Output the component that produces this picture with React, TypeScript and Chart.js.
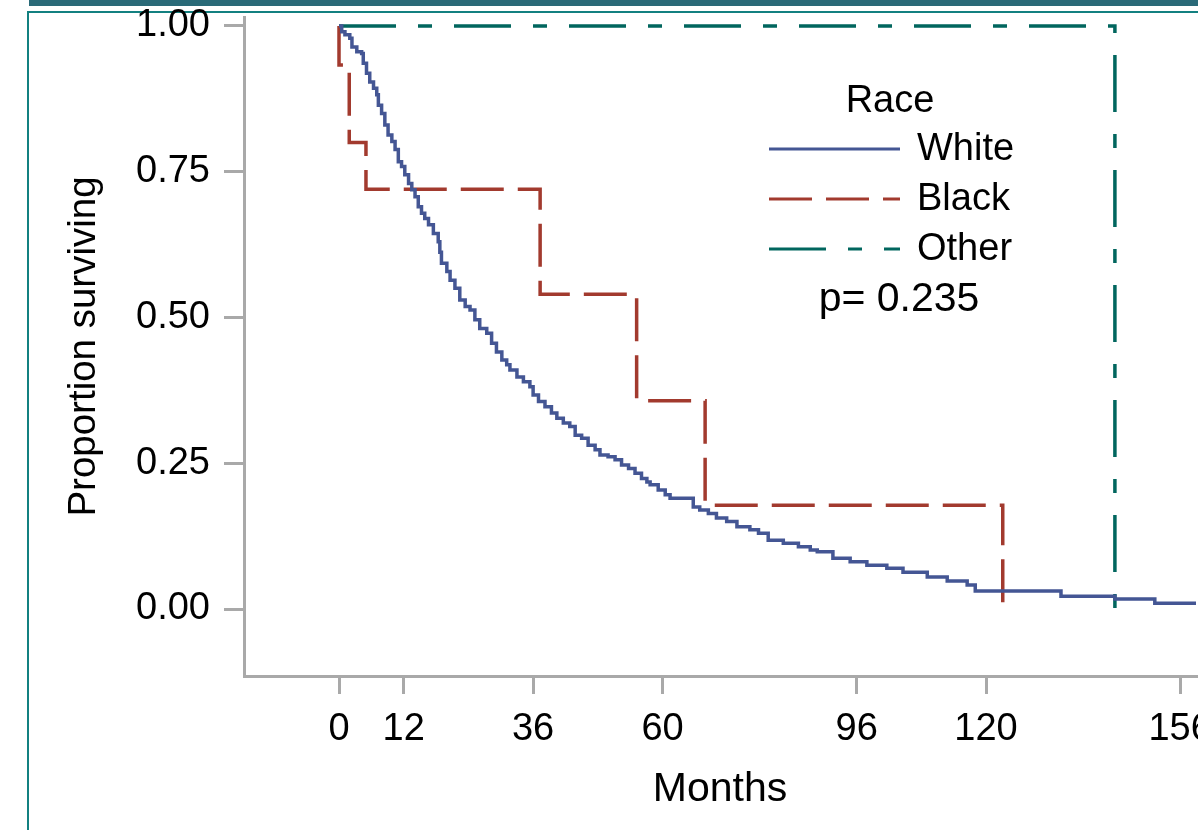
import React, { useEffect, useRef } from "react";
import { Chart, registerables } from "chart.js";

Chart.register(...registerables);

// ---------- data ----------
const xTickValues = [0, 12, 36, 60, 96, 120, 156];
const yTickValues = [0, 0.25, 0.5, 0.75, 1.0];

const seriesNames = ["White", "Black", "Other"];
const legendTitle = "Race";
const pValueText = "p= 0.235";
const xTitle = "Months";
const yTitle = "Proportion surviving";

const whiteMonths = [
  0, 0.5, 1.1, 2.0, 2.4, 3.3, 4.2, 4.5, 5.1, 5.7, 6.4, 7.0, 7.3, 7.9, 8.5, 9.1,
  9.8, 10.4, 11.0, 11.6, 12.2, 12.9, 13.5, 14.1, 14.7, 15.3, 15.9, 16.6, 17.5,
  18.4, 18.7, 19.0, 20.0, 20.6, 21.5, 22.4, 23.4, 24.3, 25.2, 26.1, 27.4, 28.3,
  29.2, 30.2, 31.1, 31.7, 33.0, 34.2, 35.4, 36.0, 37.0, 38.2, 39.4, 40.4, 41.6,
  42.8, 43.8, 45.0, 46.2, 47.5, 48.4, 49.9, 51.2, 52.4, 53.7, 54.9, 56.1, 57.1,
  57.7, 59.2, 60.5, 61.4, 65.7, 66.9, 68.5, 70.0, 71.9, 73.8, 76.2, 77.8, 79.6,
  82.4, 85.2, 87.4, 88.7, 91.6, 94.8, 97.9, 101.6, 104.6, 109.1, 112.8, 116.5,
  118.0, 133.9, 143.9, 151.3, 160.0,
];
const whiteSurvival = [
  1.0, 0.99, 0.985, 0.979, 0.964, 0.956, 0.953, 0.936, 0.919, 0.904, 0.893,
  0.882, 0.864, 0.85, 0.83, 0.813, 0.802, 0.788, 0.767, 0.759, 0.745, 0.73,
  0.719, 0.707, 0.69, 0.679, 0.67, 0.659, 0.644, 0.63, 0.612, 0.593, 0.579,
  0.564, 0.55, 0.53, 0.519, 0.513, 0.496, 0.481, 0.473, 0.456, 0.441, 0.427,
  0.419, 0.41, 0.398, 0.39, 0.381, 0.367, 0.356, 0.347, 0.336, 0.327, 0.319,
  0.313, 0.298, 0.293, 0.281, 0.273, 0.264, 0.261, 0.256, 0.247, 0.241, 0.233,
  0.224, 0.218, 0.213, 0.204, 0.196, 0.19, 0.175, 0.17, 0.164, 0.156, 0.15,
  0.141, 0.136, 0.13, 0.118, 0.113, 0.107, 0.101, 0.098, 0.087, 0.081, 0.075,
  0.07, 0.063, 0.055, 0.048, 0.041, 0.031, 0.022, 0.017, 0.01, 0.01,
];

const blackMonths = [0, 0, 1.9, 5.0, 37.3, 55.2, 67.9, 123.1];
const blackSurvival = [1.0, 0.933, 0.8, 0.72, 0.54, 0.357, 0.178, 0.0];

const otherMonths = [0, 143.9, 143.9];
const otherSurvival = [1.0, 1.0, 0.0];

// ---------- styles ----------
const seriesColors = ["#445694", "#A23A2E", "#01665E"];
const seriesDashes: number[][] = [[], [43, 14], [57, 22, 14, 22]];
const axisGrey = "#A9A9A9";
const fontFamily = "'Liberation Sans', Arial, Helvetica, sans-serif";

const toPoints = (xs: number[], ys: number[]) =>
  xs.map((x, i) => ({ x, y: ys[i] }));

const legendPlugin = {
  id: "raceLegend",
  afterDraw(chart: any) {
    const ctx = chart.ctx as CanvasRenderingContext2D;
    ctx.save();
    ctx.fillStyle = "#000";
    ctx.textBaseline = "middle";
    ctx.font = `38px ${fontFamily}`;
    ctx.textAlign = "center";
    ctx.fillText(legendTitle, 890, 102);
    seriesNames.forEach((name, i) => {
      const y = 149 + i * 50;
      ctx.strokeStyle = seriesColors[i];
      ctx.lineWidth = 3;
      ctx.setLineDash(seriesDashes[i]);
      ctx.beginPath();
      ctx.moveTo(769, y);
      ctx.lineTo(900, y);
      ctx.stroke();
      ctx.setLineDash([]);
      ctx.textAlign = "left";
      ctx.fillText(name, 917, y + 1);
    });
    ctx.textAlign = "center";
    ctx.font = `41px ${fontFamily}`;
    ctx.fillText(pValueText, 899, 300);
    ctx.restore();
  },
};

export default function App() {
  const canvasRef = useRef<HTMLCanvasElement>(null);

  useEffect(() => {
    const canvas = canvasRef.current;
    if (!canvas) return;
    const datasets = [
      toPoints(whiteMonths, whiteSurvival),
      toPoints(blackMonths, blackSurvival),
      toPoints(otherMonths, otherSurvival),
    ].map((data, i) => ({
      label: seriesNames[i],
      data,
      borderColor: seriesColors[i],
      backgroundColor: seriesColors[i],
      borderWidth: 3.5,
      borderDash: seriesDashes[i],
      pointRadius: 0,
      stepped: "before" as const,
      fill: false,
      tension: 0,
    }));

    const chart = new Chart(canvas, {
      type: "line",
      data: { datasets },
      options: {
        responsive: false,
        animation: false,
        devicePixelRatio: 1,
        layout: { padding: { left: 0, top: 17, right: 44, bottom: 0 } },
        plugins: {
          legend: { display: false },
          tooltip: { enabled: false },
        },
        scales: {
          x: {
            type: "linear",
            min: -17.62,
            max: 158.94,
            afterBuildTicks: (s: any) => {
              s.ticks = xTickValues.map((v) => ({ value: v }));
            },
            afterFit: (s: any) => {
              s.height = 154;
              s.paddingLeft = 0;
              s.paddingRight = 0;
            },
            ticks: {
              autoSkip: false,
              maxRotation: 0,
              padding: 13,
              color: "#000",
              font: { family: fontFamily, size: 38 },
              callback: (v: any) => String(v),
            },
            grid: {
              display: true,
              drawOnChartArea: false,
              drawTicks: true,
              tickLength: 18,
              color: axisGrey,
              lineWidth: 3,
            },
            border: { display: true, color: axisGrey, width: 3 },
            title: {
              display: true,
              text: xTitle,
              color: "#000",
              font: { family: fontFamily, size: 41 },
              padding: { top: 0, bottom: 16 },
            },
          },
          y: {
            type: "linear",
            min: -0.1149,
            max: 1.0154,
            afterBuildTicks: (s: any) => {
              s.ticks = yTickValues.map((v) => ({ value: v }));
            },
            afterFit: (s: any) => {
              s.width = 244;
              s.paddingTop = 0;
              s.paddingBottom = 0;
            },
            ticks: {
              autoSkip: false,
              padding: 14,
              color: "#000",
              font: { family: fontFamily, size: 38 },
              callback: (v: any) => Number(v).toFixed(2),
            },
            grid: {
              display: true,
              drawOnChartArea: false,
              drawTicks: true,
              tickLength: 20,
              color: axisGrey,
              lineWidth: 3,
            },
            border: { display: true, color: axisGrey, width: 3 },
            title: {
              display: true,
              text: yTitle,
              color: "#000",
              font: { family: fontFamily, size: 38.5 },
              padding: { top: 61, bottom: 0 },
            },
          },
        },
      },
      plugins: [legendPlugin],
    });
    return () => chart.destroy();
  }, []);

  return (
    <div
      style={{
        position: "fixed",
        left: 0,
        top: 0,
        width: 1198,
        height: 830,
        overflow: "hidden",
        background: "#fff",
      }}
    >
      <div style={{ position: "absolute", left: 29, top: 0, right: 0, height: 6, background: "#2A6A78" }} />
      <div style={{ position: "absolute", left: 27, top: 11, right: 0, height: 2, background: "#138080" }} />
      <div style={{ position: "absolute", left: 27, top: 11, bottom: 0, width: 2, background: "#138080" }} />
      <canvas
        ref={canvasRef}
        width={1240}
        height={830}
        style={{ position: "absolute", left: 0, top: 0 }}
      />
    </div>
  );
}
